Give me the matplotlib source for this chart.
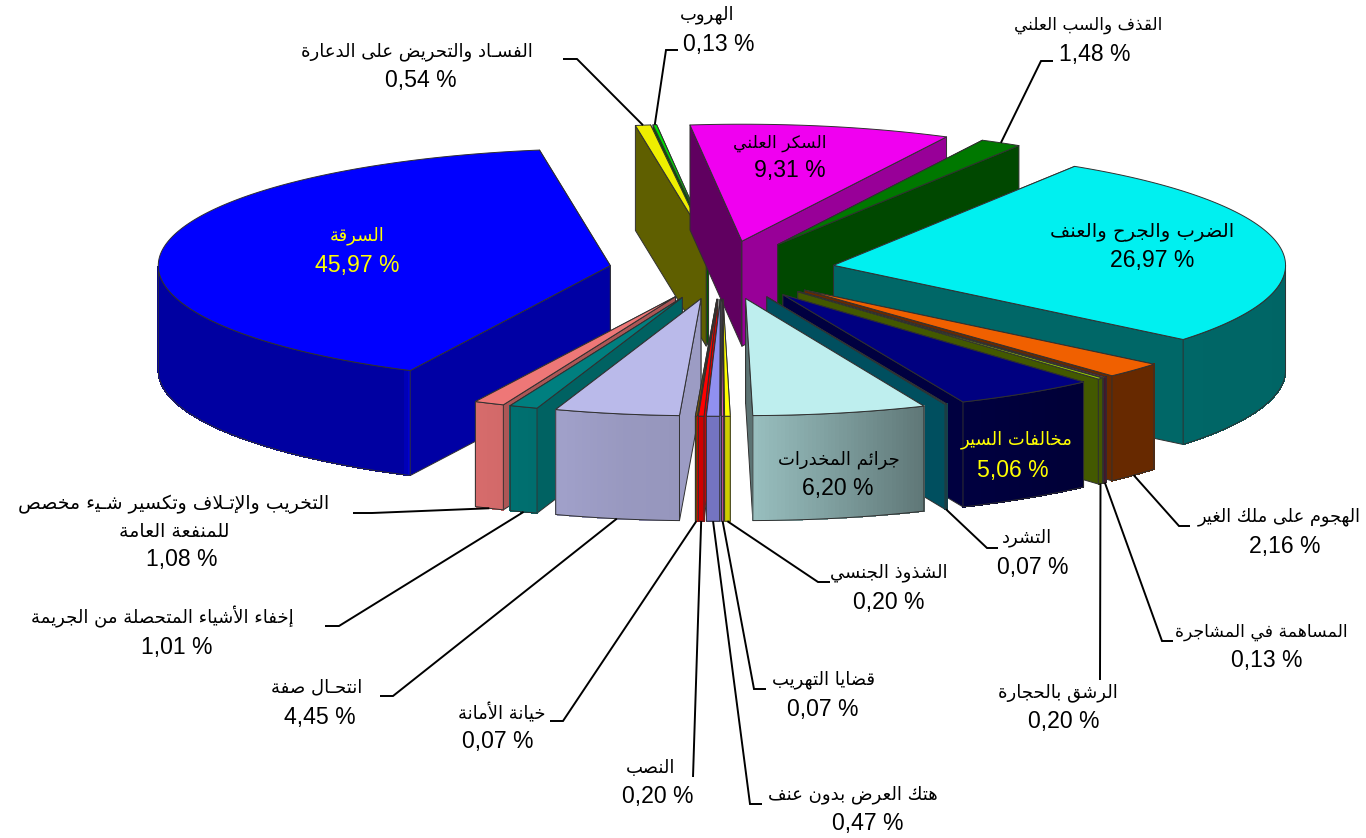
import numpy as np
import matplotlib
matplotlib.use("Agg")
import matplotlib.pyplot as plt
from matplotlib.colors import to_rgb

# slices clockwise from the top. the drawn share of the theft slice is what the
# picture shows (about 40 %), its label says 45,97
names = ["السكر العلني", "القذف والسب العلني", "الضرب والجرح والعنف", "الهجوم على ملك الغير",
         "المساهمة في المشاجرة", "الرشق بالحجارة", "مخالفات السير", "التشرد", "جرائم المخدرات",
         "الشذوذ الجنسي", "قضايا التهريب", "هتك العرض بدون عنف", "النصب", "خيانة الأمانة",
         "انتحـال صفة", "إخفاء الأشياء المتحصلة من الجريمة",
         "التخريب والإتـلاف وتكسير شـيء مخصص\nللمنفعة العامة", "السرقة",
         "الفسـاد والتحريض على الدعارة", "الهروب"]
values = [9.31, 1.48, 26.97, 2.16, 0.13, 0.20, 5.06, 0.07, 6.20, 0.20, 0.07, 0.47, 0.20, 0.07,
          4.45, 1.01, 1.08, 40.20, 0.54, 0.13]
value_labels = ["9,31", "1,48", "26,97", "2,16", "0,13", "0,20", "5,06", "0,07", "6,20", "0,20",
                "0,07", "0,47", "0,20", "0,07", "4,45", "1,01", "1,08", "45,97", "0,54", "0,13"]
colors = ["#F000F0", "#007800", "#00F0F0", "#F06000", "#993366", "#99CC00", "#000080", "#00A0C0",
          "#BEEEEE", "#FFFF00", "#FF66CC", "#9090F0", "#FF0000", "#806000", "#BABAEA", "#007F7F",
          "#EE7777", "#0000FF", "#EEEE00", "#00E000"]
text_colors = {6: "#FFFF00", 17: "#FFFF00"}

# label layout: name centre, value centre, leader start and elbow (None = no leader)
name_pos = [(780, 143), (1088, 25), (1142, 232), (1279, 517), (1261, 632), (1058, 693), (1017, 440),
            (1027, 538), (839, 460), (889, 573), (824, 680), (853, 795), (651, 768), (502, 713),
            (317, 687), (162, 617), (174, 518), (357, 236), (417, 52), (707, 15)]
value_pos = [(790, 171), (1095, 54), (1152, 260), (1285, 546), (1267, 660), (1064, 721), (1013, 470),
             (1033, 567), (838, 488), (889, 602), (823, 709), (868, 823), (658, 796), (498, 741),
             (320, 717), (177, 647), (182, 559), (357, 265), (421, 80), (719, 44)]
leaders = [None, [(1053, 61), (1041, 61)], None, [(1190, 526), (1179, 526)], [(1173, 641), (1162, 641)],
           [(1100, 680)], None, [(998, 548), (987, 548)], None, [(830, 582), (818, 582)],
           [(766, 689), (754, 689)], [(762, 804), (750, 804)], [(693, 777)], [(550, 721), (563, 721)],
           [(380, 696), (393, 696)], [(325, 626), (339, 626)], [(353, 513), (372, 513)], None,
           [(563, 59), (577, 59)], [(678, 50), (666, 50)]]
# dejavu runs wider or narrower than the original arabic face on some labels
name_sizes = {0: 12.3, 1: 12.2, 2: 14, 3: 12.8, 4: 12.4, 16: 13.6}

# pie geometry in pixels
cx, cy = 722, 270
rx, ry = 452, 117
depth = 105
explode = 113
start = 96.6


# matplotlib does no arabic shaping, so pick the presentation forms by hand
both = "ئبتثجحخسشصضطظعغفقكلمنهي"
forms = {}
code = 0xFE80
for ch in "ءآأؤإئابةتثجحخدذرزسشصضطظعغفقكلمنهوىي":
    n = 1 if ch == "ء" else 4 if ch in both else 2
    forms[ch] = [code + i for i in range(n)]
    code += n
lam_alef = {"آ": 0xFEF5, "أ": 0xFEF7, "إ": 0xFEF9, "ا": 0xFEFB}


def joins_next(ch):
    return ch in both or ch == "ـ"


def shape(line):
    out = []
    i = 0
    while i < len(line):
        ch = line[i]
        prev = line[i - 1] if i > 0 else " "
        nxt = line[i + 1] if i + 1 < len(line) else " "
        joined = joins_next(prev)
        if ch == "ل" and nxt in lam_alef:
            out.append(chr(lam_alef[nxt] + (1 if joined else 0)))
            i += 2
            continue
        if ch not in forms:
            out.append(ch)
        else:
            f = forms[ch]
            to_next = len(f) == 4 and (nxt in forms or nxt == "ـ")
            if joined and to_next:
                out.append(chr(f[3]))
            elif joined and len(f) > 1:
                out.append(chr(f[1]))
            elif to_next:
                out.append(chr(f[2]))
            else:
                out.append(chr(f[0]))
        i += 1
    return "".join(reversed(out))


def darken(col, k):
    return tuple(c * k for c in to_rgb(col))


def rim_shade(a):
    a = (a + 180) % 360 - 180
    return np.interp(a, [-180, -117.5, -116, -100, -89, -67, -50, 0],
                     [.63, .63, .9, .82, .8, .5, .43, .42])


def wall_shade(a):
    a = (a + 180) % 360 - 180
    return np.interp(a, [-180, -175, -170, -156, -137, -129, -32, -27, -20, 0, 150, 180],
                     [.5, .4, .4, .5, .43, .43, .6, .63, .77, .85, .63, .5])


fig = plt.figure(figsize=(13.66, 8.38), dpi=100)
ax = fig.add_axes([0, 0, 1, 1])
ax.set_xlim(0, 1366)
ax.set_ylim(838, 0)
ax.axis("off")

total = sum(values)
sweeps = [v / total * 360 for v in values]
starts = [start - sum(sweeps[:i]) for i in range(len(values))]
mids = [s - w / 2 for s, w in zip(starts, sweeps)]


def apex(mid):
    r = np.radians(mid)
    return cx + explode * np.cos(r), cy - explode * np.sin(r) * ry / rx


def rim_point(mid, a):
    x0, y0 = apex(mid)
    r = np.radians(a)
    return x0 + rx * np.cos(r), y0 - ry * np.sin(r)


edge = dict(edgecolor="#303030", linewidth=0.7, joinstyle="round")

# back slices first
for i in sorted(range(len(values)), key=lambda k: -np.sin(np.radians(mids[k]))):
    a0, a1 = starts[i], starts[i] - sweeps[i]
    x0, y0 = apex(mids[i])
    col = colors[i]

    # the two cut faces, the one lying behind goes first
    for a, normal in sorted([(a0, a0 + 90), (a1, a1 - 90)], key=lambda t: -np.sin(np.radians(t[0]))):
        px, py = rim_point(mids[i], a)
        ax.fill([x0, px, px, x0], [y0, py, py + depth, y0 + depth],
                facecolor=darken(col, wall_shade(normal)), **edge)

    # outer rim, only the part turned to the viewer
    arc = np.linspace(a0, a1, max(3, int(sweeps[i] * 2) + 2))
    front = arc[np.sin(np.radians(arc)) <= 0.001]
    if len(front) > 1:
        for b0, b1 in zip(front[:-1], front[1:]):
            p0 = rim_point(mids[i], b0)
            p1 = rim_point(mids[i], b1)
            c = darken(col, rim_shade((b0 + b1) / 2))
            # no antialiasing here or the seams between strips show
            ax.fill([p0[0], p1[0], p1[0], p0[0]], [p0[1], p1[1], p1[1] + depth, p0[1] + depth],
                    facecolor=c, edgecolor=c, linewidth=0.5, antialiased=False)
        xs, ys = rim_point(mids[i], front)
        ax.fill(np.r_[xs, xs[::-1]], np.r_[ys, ys[::-1] + depth], facecolor="none", **edge)

    # top
    xs, ys = rim_point(mids[i], arc)
    ax.fill(np.r_[x0, xs], np.r_[y0, ys], facecolor=col, **edge)

# leaders and labels
for i in range(len(values)):
    if leaders[i]:
        back = np.sin(np.radians(mids[i])) > 0
        ex, ey = rim_point(mids[i], mids[i])
        if not back:
            ey += depth
        pts = leaders[i] + [(ex, ey)]
        ax.plot([p[0] for p in pts], [p[1] for p in pts], color="black", lw=1.4,
                solid_joinstyle="miter", solid_capstyle="butt", zorder=5)

    tc = text_colors.get(i, "black")
    lines = names[i].split("\n")
    x, y = name_pos[i]
    for k, line in enumerate(lines):
        ax.text(x, y + (k - (len(lines) - 1) / 2) * 27, shape(line), family="DejaVu Sans",
                fontsize=name_sizes.get(i, 13), color=tc, ha="center", va="center", zorder=6)
    x, y = value_pos[i]
    ax.text(x, y, value_labels[i] + " %", family="Liberation Sans", fontsize=16.6,
            color=tc, ha="center", va="center", zorder=6)

fig.savefig("out.png", dpi=100)
